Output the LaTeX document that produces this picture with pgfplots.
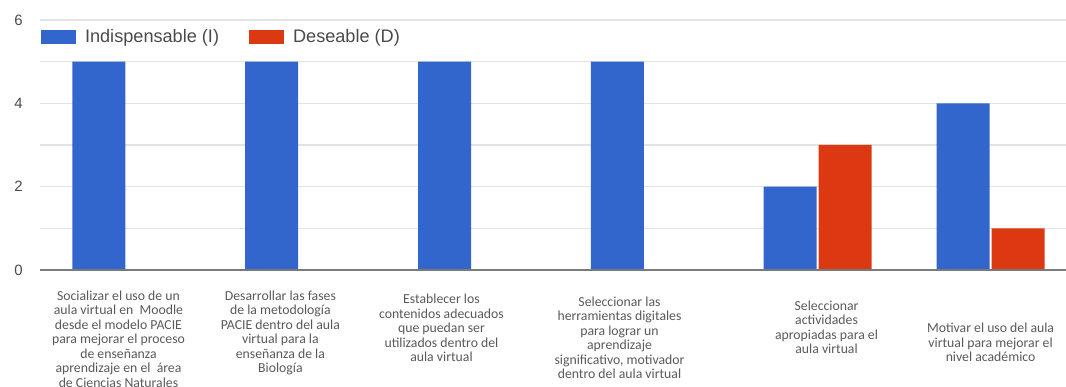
\documentclass[border=0pt]{standalone}
\usepackage{pgfplots}
\pgfplotsset{compat=1.18}
\usepackage{fontspec}
\setmainfont{Liberation Sans}
\newfontfamily\carlito{Carlito}

\definecolor{barI}{HTML}{3366CC}
\definecolor{barD}{HTML}{DC3912}
\definecolor{gridc}{HTML}{E3E3E3}
\definecolor{basec}{HTML}{7A7A7A}
\definecolor{tickc}{HTML}{4A4A4A}
\definecolor{labc}{HTML}{595959}

\pgfplotsset{
  swatch/.style={legend image code/.code={\fill[##1,draw=none] (0bp,-7bp) rectangle (35bp,7bp);}},
}
\tikzset{
  catlabel/.style={anchor=north, align=center, inner sep=0pt, text=labc,
    font=\carlito\fontsize{13.8}{14.5}\selectfont},
}

\begin{document}
\begin{tikzpicture}
\begin{axis}[
  at={(40bp,117bp)}, anchor=south west,
  scale only axis, width=1037bp, height=250bp,
  xmin=-0.5, xmax=5.5, ymin=0, ymax=6,
  enlargelimits=false, clip=false,
  ybar=2bp, bar width=53bp,
  axis line style={draw=none},
  xtick=\empty,
  ytick={0,2,4,6}, minor ytick={1,3,5},
  ymajorgrids, yminorgrids,
  major grid style={gridc, line width=1.3bp},
  minor grid style={gridc, line width=1.3bp},
  major tick length=0pt, minor tick length=0pt,
  /pgf/number format/assume math mode=true,
  yticklabel style={anchor=east, inner sep=0pt, xshift=-17bp, text=tickc,
    font=\fontsize{15}{18}\selectfont},
  legend style={at={(rel axis cs:0.001,0.932)}, anchor=west,
    draw=none, fill=none, inner sep=0pt, outer sep=0pt,
    text=tickc, font=\fontsize{18.2}{20}\selectfont,
    nodes={inner sep=0pt},
    /tikz/every odd column/.append style={column sep=9bp},
    /tikz/every even column/.append style={column sep=30bp}},
  legend columns=2,
]
\addplot[fill=barI, draw=none, swatch] coordinates {(0,5) (1,5) (2,5) (3,5) (4,2) (5,4)};
\addplot[fill=barD, draw=none, swatch] coordinates {(0,0) (1,0) (2,0) (3,0) (4,3) (5,1)};
\legend{Indispensable (I), Deseable (D)}

% baseline over the bars
\draw[basec, line width=2bp] (rel axis cs:0,0) -- (rel axis cs:1,0);

% category labels
\node[catlabel] at (axis cs:-0.046,-0.495) {Socializar el uso de un\\aula virtual en\ \ Moodle\\desde el modelo PACIE\\para mejorar el proceso\\de enseñanza\\aprendizaje en el\ \ área\\de Ciencias Naturales};
\node[catlabel] at (axis cs:0.891,-0.495) {Desarrollar las fases\\de la metodología\\PACIE dentro del aula\\virtual para la\\enseñanza de la\\Biología};
\node[catlabel] at (axis cs:1.823,-0.575) {Establecer los\\contenidos adecuados\\que puedan ser\\utilizados dentro del\\aula virtual};
\node[catlabel] at (axis cs:2.853,-0.64) {Seleccionar las\\herramientas digitales\\para lograr un\\aprendizaje\\significativo, motivador\\dentro del aula virtual};
\node[catlabel] at (axis cs:4.051,-0.736) {Seleccionar\\actividades\\apropiadas para el\\aula virtual};
\node[catlabel] at (axis cs:5.0,-1.278) {Motivar el uso del aula\\virtual para mejorar el\\nivel académico};
\end{axis}
\pgfresetboundingbox
\path[use as bounding box] (0,0) rectangle (1066bp,387bp);
\end{tikzpicture}
\end{document}
